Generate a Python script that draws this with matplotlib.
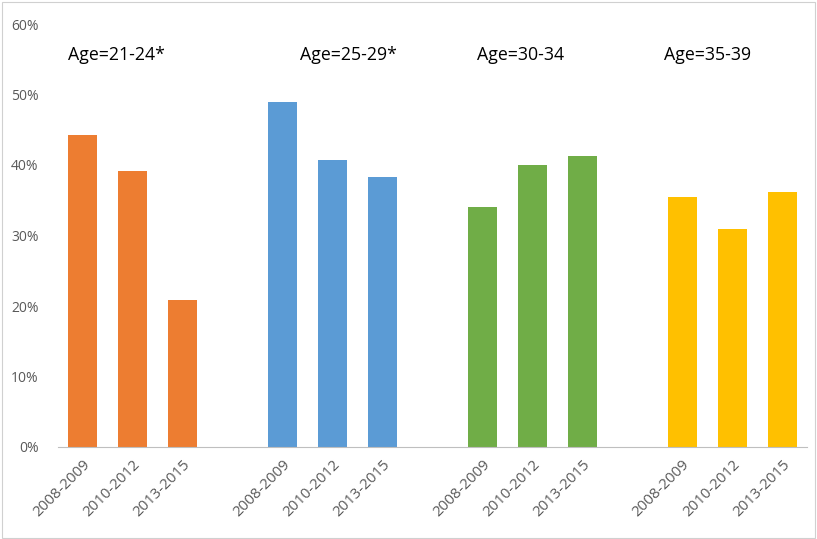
import matplotlib
matplotlib.use("Agg")
import matplotlib.pyplot as plt
from matplotlib.patches import Rectangle
from matplotlib.ticker import PercentFormatter

groups = ["Age=21-24*", "Age=25-29*", "Age=30-34", "Age=35-39"]
periods = ["2008-2009", "2010-2012", "2013-2015"]
age_21_24 = [0.443, 0.392, 0.208]
age_25_29 = [0.489, 0.407, 0.383]
age_30_34 = [0.341, 0.400, 0.413]
age_35_39 = [0.354, 0.309, 0.362]
colors = ["#ED7D31", "#5B9BD5", "#70AD47", "#FFC000"]
label_x = [-0.3, 4.35, 7.9, 11.64]
label_y = 0.556

series = [age_21_24, age_25_29, age_30_34, age_35_39]

plt.rcParams['font.family'] = ['Open Sans', 'DejaVu Sans']
fig = plt.figure(figsize=(8.17, 5.39), dpi=100)
ax = fig.add_axes([58/817, 1-447/539, (807-58)/817, (447-24)/539])

positions = []
labels = []
for gi, vals in enumerate(series):
    xs = [gi * 4 + i for i in range(len(vals))]
    ax.bar(xs, vals, width=0.58, color=colors[gi], zorder=2)
    positions += xs
    labels += periods
    ax.text(label_x[gi], label_y, groups[gi], ha='left', va='center',
            fontsize=12.8, color='black')

ax.set_xlim(-0.5, 14.5)
ax.set_ylim(0, 0.6)
ax.set_yticks([0, 0.1, 0.2, 0.3, 0.4, 0.5, 0.6])
ax.yaxis.set_major_formatter(PercentFormatter(1.0, decimals=0))
ax.set_xticks(positions)
ax.set_xticklabels(labels, rotation=45, ha='right', rotation_mode='anchor')
for s in ['top', 'right', 'left']:
    ax.spines[s].set_visible(False)
ax.spines['bottom'].set_color('#BFBFBF')
ax.spines['bottom'].set_linewidth(0.8)
ax.tick_params(axis='both', length=0, colors='#595959')
ax.tick_params(axis='y', pad=14, labelsize=10)
ax.tick_params(axis='x', pad=7, labelsize=10.8)

fig.patches.append(Rectangle((0.002, 0.002), 0.996, 0.995, transform=fig.transFigure,
                             fill=False, edgecolor='#D0D0D0', linewidth=0.8))

fig.savefig("out.png", dpi=100)
